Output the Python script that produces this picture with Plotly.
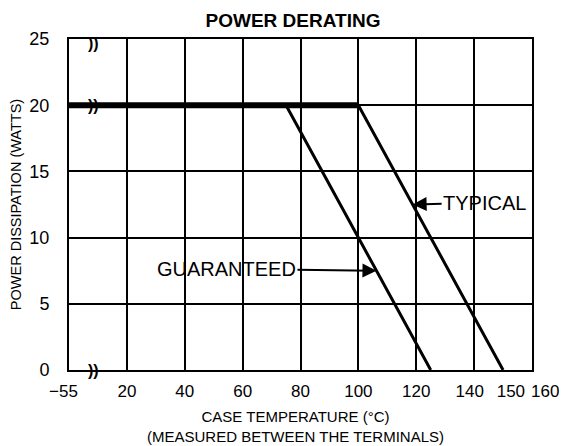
import plotly.graph_objects as go

# ---- data ----
guaranteed_temp = [-55, 75, 125]
guaranteed_watts = [20, 20, 0]
typical_temp = [-55, 100, 150]
typical_watts = [20, 20, 0]

x_tick_values = [-55, 20, 40, 60, 80, 100, 120, 140, 150, 160]
x_tick_labels = ["\u221255", "20", "40", "60", "80", "100", "120", "140", "150", "160"]
x_grid_values = [20, 40, 60, 80, 100, 120, 140]
y_tick_values = [0, 5, 10, 15, 20, 25]
y_tick_labels = ["0", "5", "10", "15", "20", "25"]

x_title_lines = ["CASE TEMPERATURE (\u00b0C)", "(MEASURED BETWEEN THE TERMINALS)"]
y_title = "POWER DISSIPATION (WATTS)"

FONT = "Liberation Sans, Arial, Helvetica, sans-serif"

# the page body adds an 8px margin, so the figure is 8px smaller than the window
PAGE_OFF = 8
W, H = 567 - PAGE_OFF, 446 - PAGE_OFF


def to_axis(t):
    """Broken axis: -55..20 degC is compressed into one grid cell."""
    return (t + 55) * 20.0 / 75.0 if t < 20 else t


# small horizontal label offsets mimicking the printed chart
label_nudge = {140: -1.5, 150: 2.7}          # axis units
edge_label_shift = {-55: -6, 160: 13}         # pixels (labels at the plot edges)

gx = [to_axis(t) for t in guaranteed_temp]
tx = [to_axis(t) for t in typical_temp]

fig = go.Figure()

# thick rated-power segment (flat part of the typical curve)
fig.add_trace(go.Scatter(x=tx[:2], y=typical_watts[:2], mode="lines",
                         line=dict(color="black", width=6), hoverinfo="skip",
                         showlegend=False))
fig.add_trace(go.Scatter(x=gx, y=guaranteed_watts, mode="lines", name="GUARANTEED",
                         line=dict(color="black", width=3), showlegend=False))
fig.add_trace(go.Scatter(x=tx, y=typical_watts, mode="lines", name="TYPICAL",
                         line=dict(color="black", width=3), showlegend=False))


def on_line(xs, ys, yv):
    for i in range(len(xs) - 1):
        y0, y1 = ys[i], ys[i + 1]
        if y0 != y1 and min(y0, y1) <= yv <= max(y0, y1):
            return xs[i] + (yv - y0) * (xs[i + 1] - xs[i]) / (y1 - y0)
    return None


ann = []
# TYPICAL callout
ty = 12.5
ann.append(dict(x=on_line(tx, typical_watts, ty), y=ty, xref="x", yref="y",
                text="TYPICAL", showarrow=True, ax=72, ay=-2,
                arrowhead=2, arrowsize=1.4, arrowwidth=2, arrowcolor="black",
                standoff=0, font=dict(family=FONT, size=20, color="black")))
# GUARANTEED callout
gy = 7.5
ann.append(dict(x=on_line(gx, guaranteed_watts, gy), y=gy, xref="x", yref="y",
                text="GUARANTEED", showarrow=True, ax=-150, ay=-2,
                arrowhead=2, arrowsize=1.4, arrowwidth=2, arrowcolor="black",
                standoff=0, font=dict(family=FONT, size=20, color="black")))
# axis-break marks
for yv, ys in [(25, -4), (20, 0), (0, 0)]:
    ann.append(dict(x=to_axis(-23), y=yv, xref="x", yref="y", text="<b>))</b>",
                    showarrow=False, yshift=ys,
                    font=dict(family=FONT, size=16, color="black")))
# x-axis title (two tightly spaced lines)
ann.append(dict(x=0.49, y=-0.171, xref="paper", yref="paper",
                text="<br>".join(x_title_lines),
                showarrow=False, xanchor="center", yanchor="middle",
                font=dict(family=FONT, size=15, color="black")))
# end tick labels, which sit just outside the plot edges
for v, s in zip(x_tick_values, x_tick_labels):
    if v in edge_label_shift:
        ann.append(dict(x=to_axis(v), y=0, xref="x", yref="paper", text=s,
                        showarrow=False, xanchor="center", yanchor="middle",
                        xshift=edge_label_shift[v], yshift=-21,
                        font=dict(family=FONT, size=17, color="black")))

fig.update_layout(
    width=W, height=H,
    margin=dict(l=69 - PAGE_OFF, r=35, t=39 - PAGE_OFF, b=76),
    paper_bgcolor="white", plot_bgcolor="white",
    title=dict(text="<b>POWER DERATING</b>", x=(293 - PAGE_OFF) / W, xref="container",
               xanchor="center", y=1 - (20 - PAGE_OFF) / H, yref="container",
               yanchor="middle",
               font=dict(family=FONT, size=19, color="black")),
    annotations=ann,
    font=dict(family=FONT, color="black"),
)

inner = [(v, s) for v, s in zip(x_tick_values, x_tick_labels) if v not in edge_label_shift]
fig.update_xaxes(
    range=[0, 160],
    tickmode="array",
    tickvals=[to_axis(v) + label_nudge.get(v, 0) for v, _ in inner],
    ticktext=[s for _, s in inner],
    tickangle=0,
    ticks="", ticklen=0, ticklabelstandoff=5,
    tickfont=dict(family=FONT, size=17, color="black"),
    showgrid=False, zeroline=False,
    minor=dict(tickmode="array", tickvals=x_grid_values, showgrid=True,
               gridcolor="black", gridwidth=1.5, ticklen=0),
    showline=True, linecolor="black", linewidth=2, mirror=True,
    automargin=False,
)
fig.update_yaxes(
    range=[0, 25],
    tickmode="array", tickvals=y_tick_values, ticktext=y_tick_labels,
    ticks="", ticklabelstandoff=14,
    tickfont=dict(family=FONT, size=18, color="black"),
    showgrid=True, gridcolor="black", gridwidth=1.5, zeroline=False,
    showline=True, linecolor="black", linewidth=2, mirror=True,
    title=dict(text=y_title,
               font=dict(family=FONT, size=14.5, color="black"), standoff=6),
    automargin=False,
)

fig.write_html("out.html")
